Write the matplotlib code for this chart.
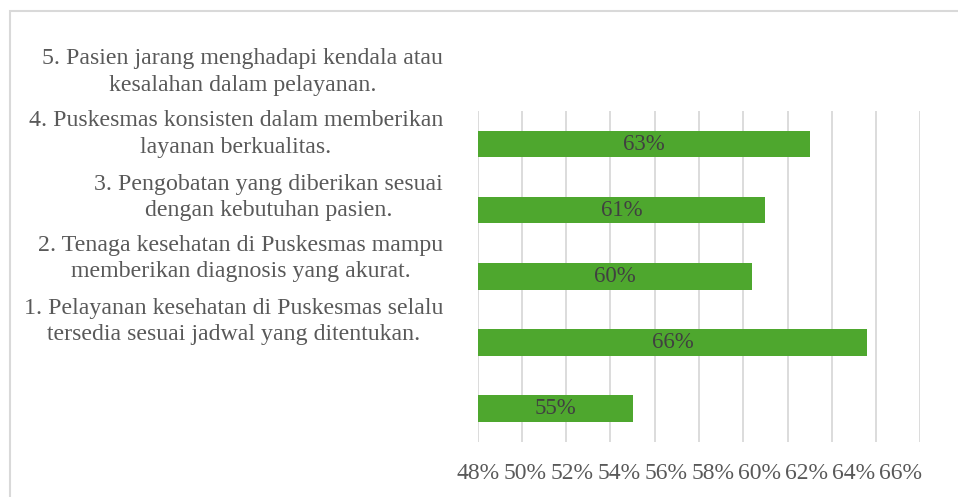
import matplotlib.pyplot as plt
import numpy as np
from matplotlib.patches import Rectangle

# category statements (1 at bottom, 5 at top)
labels = ['1. Pelayanan kesehatan di Puskesmas selalu\ntersedia sesuai jadwal yang ditentukan.',
          '2. Tenaga kesehatan di Puskesmas mampu\nmemberikan diagnosis yang akurat.',
          '3. Pengobatan yang diberikan sesuai\ndengan kebutuhan pasien.',
          '4. Puskesmas konsisten dalam memberikan\nlayanan berkualitas.',
          '5. Pasien jarang menghadapi kendala atau\nkesalahan dalam pelayanan.']
# bar values, bottom to top, as drawn
values = [55.0, 65.6, 60.4, 61.0, 63.0]
value_text = ['55%', '66%', '60%', '61%', '63%']
tick_text = ['48%', '50%', '52%', '54%', '56%', '58%', '60%', '62%', '64%', '66%']

plt.rcParams['font.family'] = ['Liberation Serif', 'DejaVu Serif']

fig = plt.figure(figsize=(9.58, 4.97), dpi=100)
ax = fig.add_axes([477.7/958, 55.3/497, (920.3-477.7)/958, (441.7-111)/497])

y = np.arange(len(values))
bars = ax.barh(y, np.array(values) - 48, left=48, height=0.4, color='#4ea72e', zorder=3)
ax.bar_label(bars, labels=value_text, label_type='center', fontsize=16.5, color='#404040')

ax.set_xlim(48, 68)
ax.set_ylim(-0.5, 4.5)
ax.set_xticks(np.arange(48, 69, 2))
ax.set_xticklabels([])
ax.grid(axis='x', color='#d9d9d9', linewidth=1.3, zorder=0)
ax.tick_params(axis='x', which='major', length=0)
# Excel spreads the axis labels a little wider than the gridlines
ax.xaxis.remove_overlapping_locs = False
ax.set_xticks(48 + np.arange(10) * 2.124, minor=True)
ax.set_xticklabels(tick_text, minor=True)
ax.tick_params(axis='x', which='minor', length=0, labelsize=17, labelcolor='#595959', pad=15)
ax.set_yticks([])
for s in ax.spines.values():
    s.set_visible(False)

# category labels sit above their bars
label_y = [1.32, 2.27, 3.19, 4.15, 5.09]
for ly, t in zip(label_y, labels):
    ax.text(-0.078, ly, t, transform=ax.get_yaxis_transform(), ha='right', va='center',
            multialignment='center', fontsize=17.2, color='#595959', linespacing=1.35, clip_on=False)

# chart frame
fig.patches.append(Rectangle((10/958, -0.1), 1.2, (497-11)/497 + 0.1, transform=fig.transFigure,
                             fill=False, edgecolor='#d9d9d9', linewidth=1.5))

plt.savefig('out.png', dpi=100)
